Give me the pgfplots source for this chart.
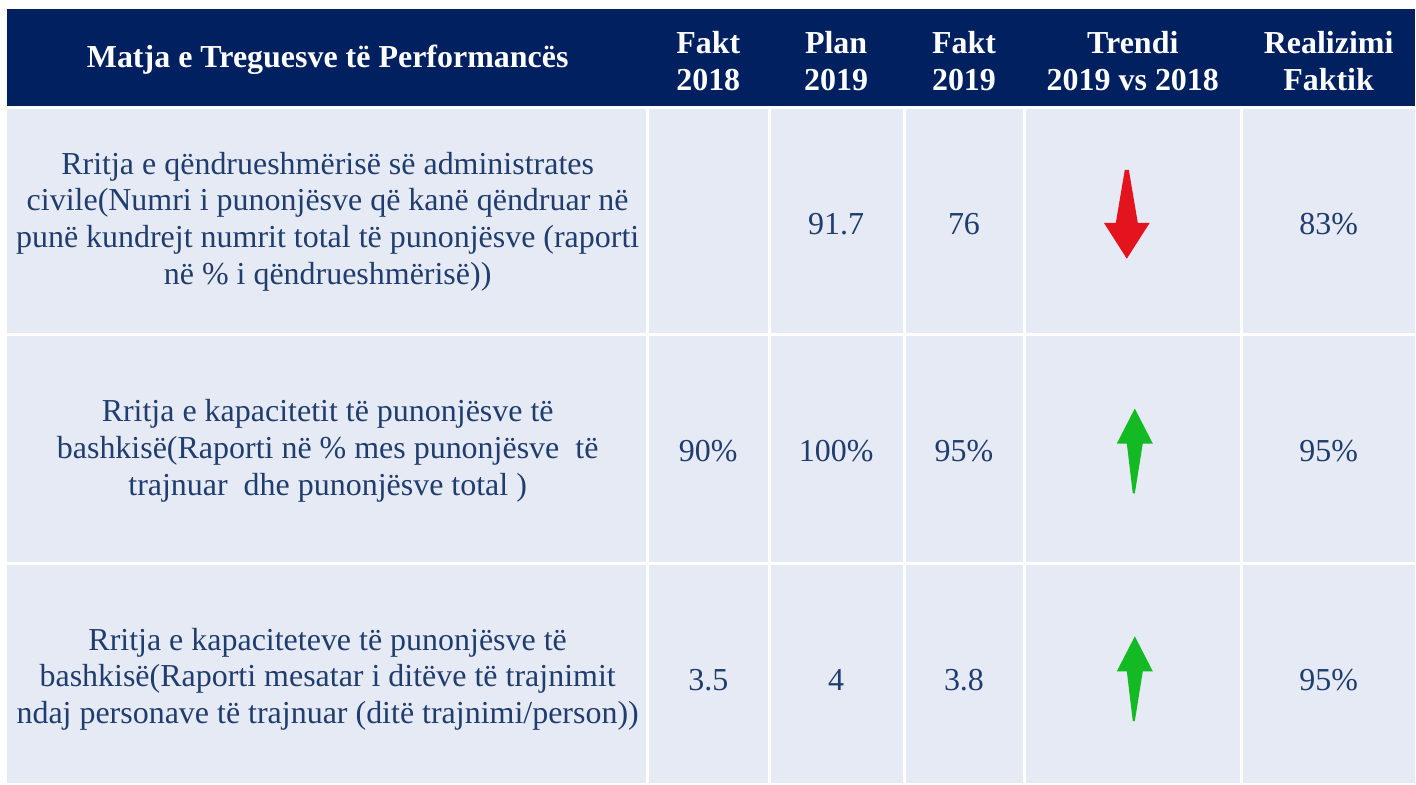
\documentclass[border=0pt]{standalone}
\usepackage{pgfplots}
\pgfplotsset{compat=1.18}
\usepackage{fontspec}
\setmainfont{Liberation Serif}

\definecolor{navy}{RGB}{0,32,96}
\definecolor{cellbg}{RGB}{230,234,244}
\definecolor{txt}{RGB}{31,61,110}
\definecolor{downred}{RGB}{227,20,30}
\definecolor{upgreen}{RGB}{20,186,36}

\begin{document}
\begin{tikzpicture}
\begin{axis}[
    width=708pt, height=392pt, scale only axis,
    xmin=0, xmax=1416, ymin=0, ymax=784,
    y dir=reverse,
    hide axis, clip=false,
]
% page and cells
\fill[white] (0,0) rectangle (1416,784);
\fill[navy] (7,9) rectangle (1416,107);
\fill[cellbg] (7,107) rectangle (1416,784);
\draw[white, line width=1.5pt] (7,108) -- (1416,108);
\draw[white, line width=1.5pt] (7,335) -- (1416,335);
\draw[white, line width=1.5pt] (7,564) -- (1416,564);
\draw[white, line width=1.5pt] (648,108) -- (648,784);
\draw[white, line width=1.5pt] (770,108) -- (770,784);
\draw[white, line width=1.5pt] (905,108) -- (905,784);
\draw[white, line width=1.5pt] (1026,108) -- (1026,784);
\draw[white, line width=1.5pt] (1243,108) -- (1243,784);

% header
\begin{scope}[every node/.style={text=white, font=\fontsize{16}{18.5}\selectfont\bfseries, align=center}]
\node at (328,60) {Matja e Treguesve të Performancës};
\node at (709,61) {Fakt\\2018};
\node at (837,61) {Plan\\2019};
\node at (965,61) {Fakt\\2019};
\node at (1134,61) {Trendi\\2019 vs 2018};
\node at (1330,61) {Realizimi\\Faktik};
\end{scope}

% body
\begin{scope}[every node/.style={text=txt, font=\fontsize{16}{18.5}\selectfont, align=center}]
\node at (328,222) {Rritja e qëndrueshmërisë së administrates\\civile(Numri i punonjësve që kanë qëndruar në\\punë kundrejt numrit total të punonjësve (raporti\\në \% i qëndrueshmërisë))};
\node at (328,451) {Rritja e kapacitetit të punonjësve të\\bashkisë(Raporti në \% mes punonjësve\ \ të\\trajnuar\ \ dhe punonjësve total )};
\node at (328,680) {Rritja e kapaciteteve të punonjësve të\\bashkisë(Raporti mesatar i ditëve të trajnimit\\ndaj personave të trajnuar (ditë trajnimi/person))};

\node at (837,224) {91.7};
\node at (965,224) {76};
\node at (1330,224) {83\%};

\node at (709,452) {90\%};
\node at (837,452) {100\%};
\node at (965,452) {95\%};
\node at (1330,452) {95\%};

\node at (709,681) {3.5};
\node at (837,681) {4};
\node at (965,681) {3.8};
\node at (1330,681) {95\%};
\end{scope}

% trend arrows
\addplot[draw=none, fill=downred] coordinates {
    (1126,170) (1130,170) (1139,223) (1151,223) (1128,259) (1105,223) (1117,223) (1126,170)
};
\addplot[draw=none, fill=upgreen] coordinates {
    (1136,409) (1154,444) (1144,444) (1136,494) (1134,494) (1128,444) (1118,444) (1136,409)
};
\addplot[draw=none, fill=upgreen] coordinates {
    (1136,637) (1154,672) (1144,672) (1136,722) (1134,722) (1128,672) (1118,672) (1136,637)
};
\end{axis}
\end{tikzpicture}
\end{document}
